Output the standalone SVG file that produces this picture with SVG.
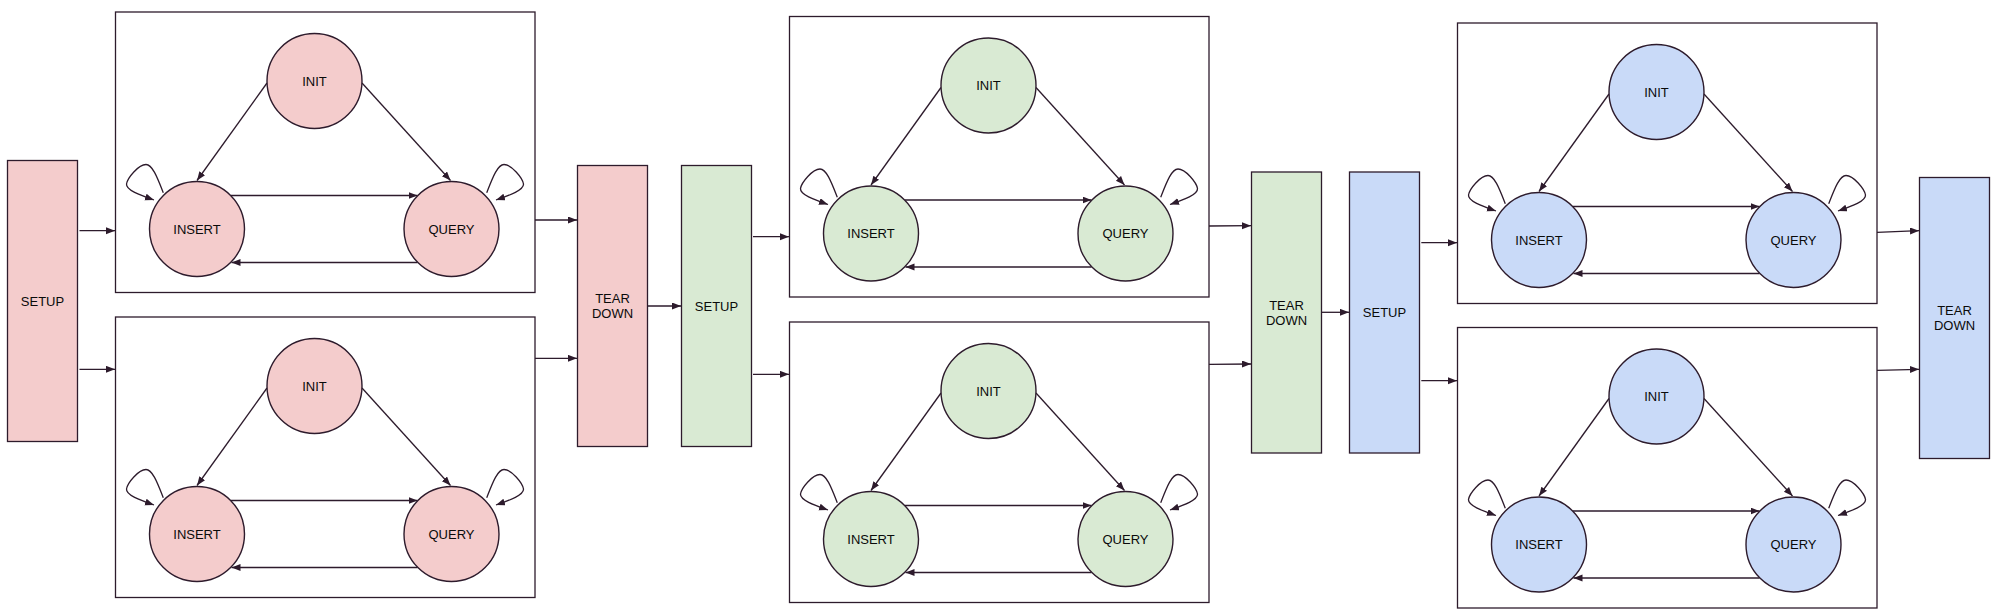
<svg xmlns="http://www.w3.org/2000/svg" width="2000" height="610" viewBox="0 0 2000 610">
<style>
.frame{fill:#ffffff;stroke:#2d1b2c;stroke-width:1.3}
.box{stroke:#2d1b2c;stroke-width:1.3}
.st{stroke:#2d1b2c;stroke-width:1.4}
.pink{fill:#f4cccc}
.green{fill:#d9ead3}
.blue{fill:#c9daf8}
text{font-family:"Liberation Sans",Arial,sans-serif;font-size:13px;fill:#0a0a0a;text-anchor:middle}
.c{fill:none;stroke:#2d1b2c;stroke-width:1.3;marker-end:url(#ah)}
</style>
<defs>
<marker id="ah" markerWidth="10" markerHeight="8" refX="9" refY="3.5" orient="auto" markerUnits="userSpaceOnUse">
<path d="M0,0 L9,3.5 L0,7 z" fill="#2d1b2c"/>
</marker>
<g id="edges">
<path class="c" d="M151.5,71 L81.5,168.5"/>
<path class="c" d="M246.5,71 L335,168.5"/>
<path class="c" d="M115.5,183.5 L302,183.5"/>
<path class="c" d="M302,250.5 L116,250.5"/>
<path class="c" d="M47.8,180.7 C42,166 37,152.5 30.5,152.5 C23,152.5 12,166 11,172 C10.5,178 24,183 38.5,188"/>
<path class="c" d="M371.2,180.7 C377,166 382,152.5 388.5,152.5 C396,152.5 407,166 408,172 C408.5,178 395,183 380.5,188"/>
</g>
</defs>

<!-- Frames -->
<g id="frame1"><rect class="frame" x="115.5" y="12" width="419.5" height="280.5"/></g>
<g id="frame2"><rect class="frame" x="115.5" y="317" width="419.5" height="280.5"/></g>
<g id="frame3"><rect class="frame" x="789.5" y="16.5" width="419.5" height="280.5"/></g>
<g id="frame4"><rect class="frame" x="789.5" y="322" width="419.5" height="280.5"/></g>
<g id="frame5"><rect class="frame" x="1457.5" y="23" width="419.5" height="280.5"/></g>
<g id="frame6"><rect class="frame" x="1457.5" y="327.5" width="419.5" height="280.5"/></g>

<!-- Connectors -->
<g id="connectors">
<use href="#edges" transform="translate(115.5,12)"/>
<use href="#edges" transform="translate(115.5,317)"/>
<use href="#edges" transform="translate(789.5,16.5)"/>
<use href="#edges" transform="translate(789.5,322)"/>
<use href="#edges" transform="translate(1457.5,23)"/>
<use href="#edges" transform="translate(1457.5,327.5)"/>
<path class="c" d="M79.5,230.7 L115,230.7"/>
<path class="c" d="M79.5,369.3 L115,369.3"/>
<path class="c" d="M535,220 L577,220"/>
<path class="c" d="M535,358.3 L577,358.3"/>
<path class="c" d="M648,306 L681,306"/>
<path class="c" d="M753,236.7 L789,236.7"/>
<path class="c" d="M753,374.3 L789,374.3"/>
<path class="c" d="M1209,226 L1251,225.7"/>
<path class="c" d="M1209,364.3 L1251,364"/>
<path class="c" d="M1322,312.3 L1349,312.3"/>
<path class="c" d="M1421.3,242.7 L1457,242.7"/>
<path class="c" d="M1421.3,380.7 L1457,380.7"/>
<path class="c" d="M1877,232.3 L1919,230.7"/>
<path class="c" d="M1877,370.3 L1919,369.3"/>
</g>

<!-- Stage boxes -->
<g id="setup1"><rect class="box pink" x="7.5" y="160.5" width="70" height="281"/><text x="42.5" y="305.6">SETUP</text></g>
<g id="teardown1"><rect class="box pink" x="577.5" y="165.5" width="70" height="281"/><text x="612.5" y="303.2">TEAR</text><text x="612.5" y="318.2">DOWN</text></g>
<g id="setup2"><rect class="box green" x="681.5" y="165.5" width="70" height="281"/><text x="716.5" y="310.6">SETUP</text></g>
<g id="teardown2"><rect class="box green" x="1251.5" y="172" width="70" height="281"/><text x="1286.5" y="309.7">TEAR</text><text x="1286.5" y="324.7">DOWN</text></g>
<g id="setup3"><rect class="box blue" x="1349.5" y="172" width="70" height="281"/><text x="1384.5" y="317.1">SETUP</text></g>
<g id="teardown3"><rect class="box blue" x="1919.5" y="177.5" width="70" height="281"/><text x="1954.5" y="315.2">TEAR</text><text x="1954.5" y="330.2">DOWN</text></g>

<!-- State nodes: frame 1 -->
<g id="f1-init" transform="translate(115.5,12)"><circle class="st pink" cx="199" cy="69" r="47.5"/><text x="199" y="73.6">INIT</text></g>
<g id="f1-insert" transform="translate(115.5,12)"><circle class="st pink" cx="81.5" cy="217" r="47.5"/><text x="81.5" y="221.6">INSERT</text></g>
<g id="f1-query" transform="translate(115.5,12)"><circle class="st pink" cx="336" cy="217" r="47.5"/><text x="336" y="221.6">QUERY</text></g>
<!-- frame 2 -->
<g id="f2-init" transform="translate(115.5,317)"><circle class="st pink" cx="199" cy="69" r="47.5"/><text x="199" y="73.6">INIT</text></g>
<g id="f2-insert" transform="translate(115.5,317)"><circle class="st pink" cx="81.5" cy="217" r="47.5"/><text x="81.5" y="221.6">INSERT</text></g>
<g id="f2-query" transform="translate(115.5,317)"><circle class="st pink" cx="336" cy="217" r="47.5"/><text x="336" y="221.6">QUERY</text></g>
<!-- frame 3 -->
<g id="f3-init" transform="translate(789.5,16.5)"><circle class="st green" cx="199" cy="69" r="47.5"/><text x="199" y="73.6">INIT</text></g>
<g id="f3-insert" transform="translate(789.5,16.5)"><circle class="st green" cx="81.5" cy="217" r="47.5"/><text x="81.5" y="221.6">INSERT</text></g>
<g id="f3-query" transform="translate(789.5,16.5)"><circle class="st green" cx="336" cy="217" r="47.5"/><text x="336" y="221.6">QUERY</text></g>
<!-- frame 4 -->
<g id="f4-init" transform="translate(789.5,322)"><circle class="st green" cx="199" cy="69" r="47.5"/><text x="199" y="73.6">INIT</text></g>
<g id="f4-insert" transform="translate(789.5,322)"><circle class="st green" cx="81.5" cy="217" r="47.5"/><text x="81.5" y="221.6">INSERT</text></g>
<g id="f4-query" transform="translate(789.5,322)"><circle class="st green" cx="336" cy="217" r="47.5"/><text x="336" y="221.6">QUERY</text></g>
<!-- frame 5 -->
<g id="f5-init" transform="translate(1457.5,23)"><circle class="st blue" cx="199" cy="69" r="47.5"/><text x="199" y="73.6">INIT</text></g>
<g id="f5-insert" transform="translate(1457.5,23)"><circle class="st blue" cx="81.5" cy="217" r="47.5"/><text x="81.5" y="221.6">INSERT</text></g>
<g id="f5-query" transform="translate(1457.5,23)"><circle class="st blue" cx="336" cy="217" r="47.5"/><text x="336" y="221.6">QUERY</text></g>
<!-- frame 6 -->
<g id="f6-init" transform="translate(1457.5,327.5)"><circle class="st blue" cx="199" cy="69" r="47.5"/><text x="199" y="73.6">INIT</text></g>
<g id="f6-insert" transform="translate(1457.5,327.5)"><circle class="st blue" cx="81.5" cy="217" r="47.5"/><text x="81.5" y="221.6">INSERT</text></g>
<g id="f6-query" transform="translate(1457.5,327.5)"><circle class="st blue" cx="336" cy="217" r="47.5"/><text x="336" y="221.6">QUERY</text></g>
</svg>
